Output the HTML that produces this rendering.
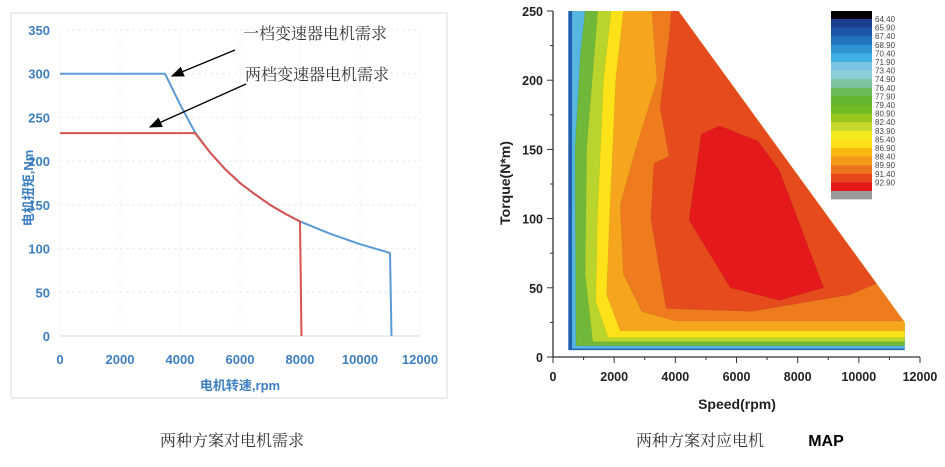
<!DOCTYPE html>
<html><head><meta charset="utf-8"><style>
body{margin:0;background:#fff;width:945px;height:467px;overflow:hidden}
svg{display:block}
.lt{font-family:"Liberation Sans","Noto Sans CJK SC",sans-serif;font-size:13px;fill:#3d7fc0;font-weight:bold}
.rt{font-family:"Liberation Sans",sans-serif;font-size:12.5px;font-weight:bold;fill:#222}
.cap{font-family:"Liberation Serif","Noto Serif CJK SC",serif;font-size:16px;fill:#333}
.lg{font-family:"Liberation Sans",sans-serif;font-size:8px;fill:#444}
</style></head><body>
<svg id="svg" width="945" height="467" xmlns="http://www.w3.org/2000/svg">
<rect x="11" y="13" width="436" height="385" fill="none" stroke="#ddd"/>
<g id="left"></g>
<g id="right"></g>
<text class="cap" x="232" y="446" text-anchor="middle">两种方案对电机需求</text>
<text class="cap" x="700" y="446" text-anchor="middle">两种方案对应电机</text>
<text x="826" y="446" text-anchor="middle" style="font-family:'Liberation Sans',sans-serif;font-weight:bold;font-size:16px">MAP</text>
</svg>
<script>
// ---- left chart data ----
const lxTicks=[0,2000,4000,6000,8000,10000,12000];
const lyTicks=[0,50,100,150,200,250,300,350];
const oneSpeed=[0,3500,4000,4500,5000,5500,6000,6500,7000,7500,8000,8500,9000,9500,10000,10500,11000,11050];
const oneTorque=[300,300,265,233,210,191,175,162,150,140,131,124,117,111,105,100,95,0];
const twoSpeed=[0,4500,5000,5500,6000,6500,7000,7500,8000,8050];
const twoTorque=[232,232,210,191,175,162,150,140,131,0];
// ---- right chart data ----
const rxTicks=[0,2000,4000,6000,8000,10000,12000];
const ryTicks=[0,50,100,150,200,250];
const hullPts=[[500,5],[500,250],[4100,250],[11500,25],[11500,5]];
const levelColors=['#1f5fae','#55b6e0','#6fb83a','#b9d42c','#fde21a','#f6a51e','#ef7b1f','#e54b1d','#e4191b'];
const levelPolys=[
 [[0,0],[0,300],[13000,300],[13000,0]],
 [[620,6],[620,260],[13000,260],[13000,6]],
 [[750,8],[720,150],[900,220],[1100,260],[13000,260],[13000,8]],
 [[1300,11],[1050,60],[1100,150],[1350,220],[1500,260],[13000,260],[13000,11]],
 [[1800,14],[1400,40],[1450,100],[1650,200],[1950,260],[13000,260],[13000,14]],
 [[2200,19],[1750,45],[1850,100],[2050,200],[2350,260],[13000,260],[13000,19]],
 [[3200,260],[3400,200],[2700,150],[2200,110],[2300,60],[2900,33],[4000,26],[10500,26],[13000,26],[13000,260]],
 [[3900,260],[3800,232],[3500,180],[3800,145],[3300,140],[3200,100],[3700,35],[6500,33],[9700,45],[10800,55],[13000,55],[13000,260]],
 [[5450,167],[6700,156],[7400,135],[8850,50],[7400,41],[5800,50],[4450,99],[4850,161]]
];
const legendColors=['#000','#1b3f8f','#1f57a8','#2372bd','#2d93d1','#3fb0e3','#79c5e2','#8ccfd8','#80c3a0','#6dbb56','#63b530','#6fba25','#99c61f','#c7d82a','#f2ea1c','#fde018','#f9b713','#f39a1a','#ec7420','#e8471e','#e3191a','#9a9a9a'];
const legendLabels=['64.40','65.90','67.40','68.90','70.40','71.90','73.40','74.90','76.40','77.90','79.40','80.90','82.40','83.90','85.40','86.90','88.40','89.90','91.40','92.90'];

const NS='http://www.w3.org/2000/svg';
function mk(p,t,a){const e=document.createElementNS(NS,t);for(const k in a)e.setAttribute(k,a[k]);p.appendChild(e);return e;}
// left axes
const lx=v=>60+v/12000*360, ly=v=>336-v/350*306;
const L=document.getElementById('left');
lyTicks.forEach(v=>{if(v>0){const g=mk(L,'line',{x1:lx(0),x2:lx(12000),y1:ly(v),y2:ly(v),stroke:'#e4edf6','stroke-dasharray':'3,3'});

}
 const t=mk(L,'text',{x:50,y:ly(v)+5,'text-anchor':'end',class:'lt'});t.textContent=v;
 
 });
lxTicks.forEach(v=>{const g=mk(L,'line',{x1:lx(v),x2:lx(v),y1:ly(0),y2:ly(350),stroke:'#eef3f9','stroke-dasharray':'3,3'});
 
 
 const t=mk(L,'text',{x:lx(v),y:364,'text-anchor':'middle',class:'lt'});t.textContent=v;
 
 });
let ax=mk(L,'line',{x1:lx(0),x2:lx(12000),y1:ly(0),y2:ly(0),stroke:'#d8d8d8'});


let tt=mk(L,'text',{x:240,y:390,'text-anchor':'middle',class:'lt'});tt.textContent='电机转速,rpm';


tt=mk(L,'text',{x:0,y:0,'text-anchor':'middle',class:'lt',transform:'translate(33,188) rotate(-90)'});tt.textContent='电机扭矩,Nm';


function line(sp,tq,col,name){const e=mk(L,'polyline',{points:sp.map((s,i)=>lx(s)+','+ly(tq[i])).join(' '),fill:'none',stroke:col,'stroke-width':2,'stroke-linejoin':'round'});
 
 }
line(oneSpeed,oneTorque,'#5b9bd5','series-one-gear');
line(twoSpeed,twoTorque,'#d9534f','series-two-gear');
mk(L,'defs',{}).innerHTML='<marker id="ah" markerWidth="10" markerHeight="8" refX="9" refY="4" orient="auto"><path d="M0,0 L10,4 L0,8z" fill="#000"/></marker>';
let a=mk(L,'line',{x1:235,y1:50,x2:172,y2:76,stroke:'#000','stroke-width':1.3,'marker-end':'url(#ah)'});


a=mk(L,'line',{x1:246,y1:84,x2:150,y2:127,stroke:'#000','stroke-width':1.3,'marker-end':'url(#ah)'});


tt=mk(L,'text',{x:243,y:39,class:'cap'});tt.textContent='一档变速器电机需求';


tt=mk(L,'text',{x:245,y:80,class:'cap'});tt.textContent='两档变速器电机需求';



// right chart
const rx=v=>553+v/12000*367, ry=v=>357-v/250*346;
const R=document.getElementById('right');
mk(R,'defs',{}).innerHTML='<clipPath id="hull"><polygon points="'+hullPts.map(p=>rx(p[0])+','+ry(p[1])).join(' ')+'"/></clipPath>';
const cg=mk(R,'g',{'clip-path':'url(#hull)'});


levelPolys.forEach((poly,i)=>{const e=mk(cg,'polygon',{points:poly.map(p=>rx(p[0])+','+ry(p[1])).join(' '),fill:levelColors[i],stroke:'rgba(0,0,0,0.08)','stroke-width':0.6});
 
 });
ax=mk(R,'path',{d:`M${rx(0)},${ry(250)}V${ry(0)}H${rx(12000)}`,fill:'none',stroke:'#333','stroke-width':1.3});


ryTicks.forEach(v=>{mk(R,'line',{x1:rx(0)-6,x2:rx(0),y1:ry(v),y2:ry(v),stroke:'#333'});
 mk(R,'line',{x1:rx(0)-3,x2:rx(0),y1:ry(v+25),y2:ry(v+25),stroke:'#333'});
 const t=mk(R,'text',{x:543,y:ry(v)+5,'text-anchor':'end',class:'rt'});t.textContent=v;
 
 });
rxTicks.forEach(v=>{mk(R,'line',{x1:rx(v),x2:rx(v),y1:ry(0),y2:ry(0)+6,stroke:'#333'});
 if(v<12000)mk(R,'line',{x1:rx(v+1000),x2:rx(v+1000),y1:ry(0),y2:ry(0)+3,stroke:'#333'});
 const t=mk(R,'text',{x:rx(v),y:381,'text-anchor':'middle',class:'rt'});t.textContent=v;
 
 });
tt=mk(R,'text',{x:737,y:409,'text-anchor':'middle',class:'rt',style:'font-size:14px'});tt.textContent='Speed(rpm)';


tt=mk(R,'text',{x:0,y:0,'text-anchor':'middle',class:'rt',style:'font-size:14px',transform:'translate(510,183) rotate(-90)'});tt.textContent='Torque(N*m)';


const lgG=mk(R,'g',{});


legendColors.forEach((c,i)=>{const h=i===0?8:(i===21?8:8.6);const y=i===0?11:19+(i-1)*8.6;
 const r=mk(lgG,'rect',{x:831,y:y,width:41,height:h+0.4,fill:c});
 
 });
legendLabels.forEach((l,i)=>{const t=mk(lgG,'text',{x:875,y:22+i*8.6,class:'lg'});t.textContent=l;
 
 });
</script>
</body></html>
